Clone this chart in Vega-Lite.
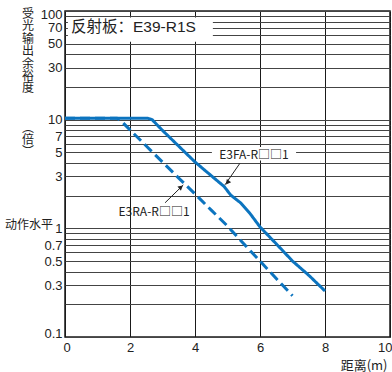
{
  "$schema": "https://vega.github.io/schema/vega-lite/v6.json",
  "width": 325,
  "height": 326,
  "autosize": "none",
  "padding": {"left": 65, "top": 11, "right": 2, "bottom": 35},
  "background": "white",
  "config": {
    "font": "Liberation Sans, Noto Sans CJK SC",
    "view": {"stroke": "#1a1a1a", "strokeWidth": 1.5}
  },
  "datasets": {
    "curves": [
      {"series": "E3FA", "x": 0, "y": 10.3},
      {"series": "E3FA", "x": 2.55, "y": 10.3},
      {"series": "E3FA", "x": 2.68, "y": 10.0},
      {"series": "E3FA", "x": 3.0, "y": 7.96},
      {"series": "E3FA", "x": 3.5, "y": 5.7},
      {"series": "E3FA", "x": 4.0, "y": 4.08},
      {"series": "E3FA", "x": 4.5, "y": 3.05},
      {"series": "E3FA", "x": 4.9, "y": 2.42},
      {"series": "E3FA", "x": 5.1, "y": 2.02},
      {"series": "E3FA", "x": 5.4, "y": 1.72},
      {"series": "E3FA", "x": 5.7, "y": 1.36},
      {"series": "E3FA", "x": 6.0, "y": 1.03},
      {"series": "E3FA", "x": 6.5, "y": 0.72},
      {"series": "E3FA", "x": 7.0, "y": 0.5},
      {"series": "E3FA", "x": 7.5, "y": 0.37},
      {"series": "E3FA", "x": 8.0, "y": 0.265},
      {"series": "E3RA", "x": 0, "y": 10.3},
      {"series": "E3RA", "x": 1.6, "y": 10.3},
      {"series": "E3RA", "x": 1.72, "y": 9.8},
      {"series": "E3RA", "x": 2.0, "y": 8.05},
      {"series": "E3RA", "x": 2.5, "y": 5.73},
      {"series": "E3RA", "x": 3.0, "y": 4.07},
      {"series": "E3RA", "x": 3.5, "y": 2.9},
      {"series": "E3RA", "x": 4.0, "y": 2.07},
      {"series": "E3RA", "x": 4.5, "y": 1.47},
      {"series": "E3RA", "x": 5.0, "y": 1.05},
      {"series": "E3RA", "x": 5.5, "y": 0.72},
      {"series": "E3RA", "x": 6.0, "y": 0.5},
      {"series": "E3RA", "x": 6.5, "y": 0.345},
      {"series": "E3RA", "x": 7.0, "y": 0.24}
    ],
    "boxes": [
      {"x": 0.09, "x2": 4.55, "y": 52, "y2": 87},
      {"x": 4.52, "x2": 7.11, "y": 4.2, "y2": 5.6}
    ],
    "arrows": [
      {"x": 5.38, "y": 3.96, "x2": 4.92, "y2": 2.51},
      {"x": 3.08, "y": 1.72, "x2": 3.64, "y2": 2.51}
    ],
    "headFA": [{"x": 5.0, "y": 2.64}],
    "headRA": [{"x": 3.57, "y": 2.4}],
    "titleText": [{"x": 0.185, "y": 71.5, "label": "反射板：E39-R1S"}],
    "curveLabels": [
      {"x": 5.815, "y": 4.73, "label": "E3FA-R□□1"},
      {"x": 2.74, "y": 1.41, "label": "E3RA-R□□1"}
    ],
    "level": [{"x": 0, "y": 1, "label": "动作水平"}],
    "yTitle": [
      {"x": 0, "y": 100, "label": "受\n光\n输\n出\n余\n裕\n度"},
      {"x": 0, "y": 9.0, "label": "︵\n倍\n︶"}
    ]
  },
  "encoding": {
    "x": {
      "field": "x",
      "type": "quantitative",
      "scale": {"domain": [0, 10], "nice": false, "zero": false},
      "axis": {
        "values": [0, 2, 4, 6, 8, 10],
        "grid": true,
        "gridColor": "#1a1a1a",
        "gridWidth": 1,
        "gridOpacity": 1,
        "ticks": false,
        "domain": false,
        "labelFlush": true,
        "labelFlushOffset": 2,
        "labelOverlap": false,
        "labelPadding": 4,
        "labelFontSize": 13,
        "labelColor": "#222",
        "title": "距离(m)",
        "titleFont": "Noto Sans CJK SC",
        "titleFontSize": 13,
        "titleFontWeight": "normal",
        "titleColor": "#222",
        "titleAnchor": "end",
        "titleAlign": "right",
        "titleBaseline": "middle",
        "titleX": 322,
        "titleY": 28
      }
    },
    "y": {
      "field": "y",
      "type": "quantitative",
      "scale": {"type": "log", "domain": [0.1, 100], "nice": false},
      "axis": {
        "values": [0.1, 0.2, 0.3, 0.4, 0.5, 0.6, 0.7, 0.8, 0.9, 1, 2, 3, 4, 5, 6, 7, 8, 9, 10, 20, 30, 40, 50, 60, 70, 80, 90, 100],
        "labelExpr": "indexof([0.1, 0.3, 0.5, 0.7, 1, 3, 5, 7, 10, 30, 50, 70, 100], datum.value) >= 0 ? format(datum.value, '~g') : ''",
        "grid": true,
        "gridColor": "#444",
        "gridWidth": 1,
        "gridOpacity": 1,
        "ticks": false,
        "domain": false,
        "labelFlush": true,
        "labelFlushOffset": 3,
        "labelOverlap": false,
        "labelPadding": 3,
        "labelFontSize": 13,
        "labelColor": "#222",
        "title": null
      }
    }
  },
  "layer": [
    {
      "data": {"name": "boxes"},
      "mark": {"type": "rect", "fill": "white", "stroke": null},
      "encoding": {"x2": {"field": "x2"}, "y2": {"field": "y2"}}
    },
    {
      "data": {"name": "curves"},
      "mark": {"type": "line", "strokeWidth": 3, "color": "#0c74bf"},
      "encoding": {
        "strokeDash": {
          "field": "series",
          "type": "nominal",
          "scale": {"domain": ["E3RA", "E3FA"], "range": [[10, 5], [1, 0]]},
          "legend": null
        },
        "order": {"field": "x", "type": "quantitative"}
      }
    },
    {
      "data": {"name": "arrows"},
      "mark": {"type": "rule", "stroke": "#222", "strokeWidth": 1},
      "encoding": {"x2": {"field": "x2"}, "y2": {"field": "y2"}}
    },
    {
      "data": {"name": "headFA"},
      "mark": {"type": "point", "shape": "triangle-up", "filled": true, "color": "#222", "size": 30, "angle": 218, "opacity": 1}
    },
    {
      "data": {"name": "headRA"},
      "mark": {"type": "point", "shape": "triangle-up", "filled": true, "color": "#222", "size": 30, "angle": 51, "opacity": 1}
    },
    {
      "data": {"name": "titleText"},
      "mark": {"type": "text", "align": "left", "baseline": "middle", "fontSize": 15.5, "color": "#222"},
      "encoding": {"text": {"field": "label"}}
    },
    {
      "data": {"name": "curveLabels"},
      "mark": {"type": "text", "align": "center", "baseline": "middle", "fontSize": 12, "color": "#222", "font": "Noto Sans CJK SC"},
      "encoding": {"text": {"field": "label"}}
    },
    {
      "data": {"name": "level"},
      "mark": {"type": "text", "align": "right", "baseline": "middle", "fontSize": 12, "color": "#222", "dx": -12, "dy": -3, "font": "Noto Sans CJK SC"},
      "encoding": {"text": {"field": "label"}}
    },
    {
      "data": {"name": "yTitle"},
      "mark": {"type": "text", "align": "center", "baseline": "top", "fontSize": 12, "color": "#222", "dx": -37, "dy": -2, "lineHeight": 12.4, "lineBreak": "\n", "font": "Noto Sans CJK SC"},
      "encoding": {"text": {"field": "label"}}
    }
  ]
}
